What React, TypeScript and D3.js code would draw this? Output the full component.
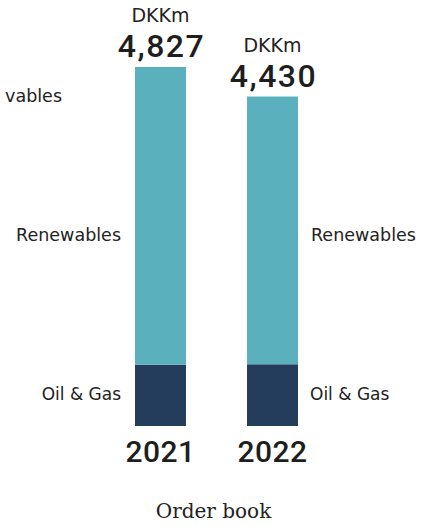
import React from "react";
import * as d3 from "d3";

const years = ["2021", "2022"];
const totals = [4827, 4430];
const oilGas = [825, 830];
const renewables = [4002, 3600];
const totalLabels = ["4,827", "4,430"];
const unit = "DKKm";
const seriesNames = ["Renewables", "Oil & Gas"];
const cutLabel = "vables";
const title = "Order book";

const W = 421;
const H = 526;
const TEAL = "#5bb0bd";
const NAVY = "#243d5c";
const SANS = "'DejaVu Sans', sans-serif";
const NUM = "Roboto, sans-serif";

export default function App() {
  const x = d3.scaleBand<string>().domain(years).range([135, 298]).paddingInner(0.545).paddingOuter(0);
  const y = d3.scaleLinear().domain([0, 4827]).range([426, 67]);
  const bw = x.bandwidth();

  const stacked = years.map((yr, i) => ({
    year: yr,
    oil: oilGas[i],
    ren: renewables[i],
    total: totals[i],
    label: totalLabels[i],
  }));

  const renMid = y(oilGas[1] + renewables[1] / 2);
  const oilMid = y(oilGas[1] / 2);

  return (
    <svg
      width={W}
      height={H}
      style={{ position: "absolute", left: 0, top: 0, background: "#fff" }}
    >
      <rect x={0} y={0} width={W} height={H} fill="#fff" />
      <text x={62} y={102} textAnchor="end" fontFamily={SANS} fontSize={17.5} fill="#222">
        {cutLabel}
      </text>
      {stacked.map((d) => {
        const cx = (x(d.year) as number) + bw / 2;
        const top = y(d.oil + d.ren);
        return (
          <g key={d.year}>
            <rect x={x(d.year)} y={y(d.oil)} width={bw} height={y(0) - y(d.oil)} fill={NAVY} />
            <rect x={x(d.year)} y={top} width={bw} height={y(d.oil) - top} fill={TEAL} />
            <text x={cx} y={top - 45} textAnchor="middle" fontFamily={SANS} fontSize={19} fill="#222">
              {unit}
            </text>
            <text x={cx + 1} y={top - 10} textAnchor="middle" fontFamily={NUM} fontWeight={500} fontSize={32} letterSpacing={1.5} fill="#1e1e1e">
              {d.label}
            </text>
            <text x={cx} y={462} textAnchor="middle" fontFamily={NUM} fontWeight={500} fontSize={30} letterSpacing={0.5} fill="#1e1e1e">
              {d.year}
            </text>
          </g>
        );
      })}
      <text x={121} y={renMid + 11} textAnchor="end" fontFamily={SANS} fontSize={17.5} fill="#222">
        {seriesNames[0]}
      </text>
      <text x={311} y={renMid + 11} textAnchor="start" fontFamily={SANS} fontSize={17.5} fill="#222">
        {seriesNames[0]}
      </text>
      <text x={121} y={oilMid + 5} textAnchor="end" fontFamily={SANS} fontSize={17} fill="#222">
        {seriesNames[1]}
      </text>
      <text x={310} y={oilMid + 5} textAnchor="start" fontFamily={SANS} fontSize={17} fill="#222">
        {seriesNames[1]}
      </text>
      <text x={213.5} y={518} textAnchor="middle" fontFamily="'DejaVu Serif', serif" fontSize={20} fill="#222">
        {title}
      </text>
    </svg>
  );
}
